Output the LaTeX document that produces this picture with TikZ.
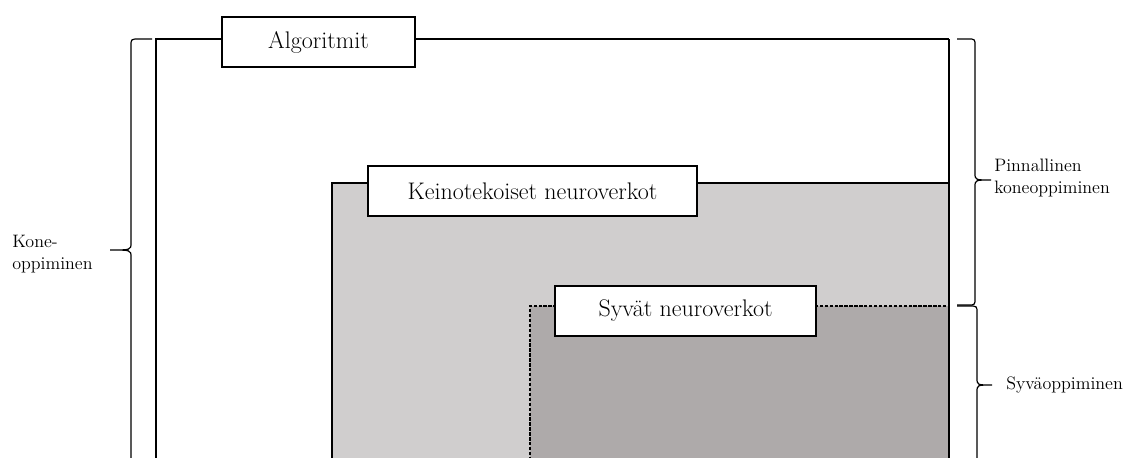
\documentclass[tikz,border=0pt]{standalone}
\usetikzlibrary{positioning}
\definecolor{lightgrey}{HTML}{D0CECE}
\definecolor{darkgrey}{HTML}{AEAAAA}

\begin{document}
\begin{tikzpicture}[line cap=butt,line join=miter,x=0.75pt,y=-0.75pt,
  labelbox/.style={draw,line width=1.1pt,fill=white,inner sep=0pt,minimum height=37.5pt,font=\fontsize{18}{21}\selectfont},
  sidetext/.style={align=left,inner sep=0pt,font=\fontsize{13.5}{16}\selectfont},
  curly/.style={line width=0.9pt}]
\useasboundingbox (0,0) rectangle (1127,457);
\clip (0,0) rectangle (1127,457);
% areas
\fill [lightgrey] (332,183) rectangle (949,480);
\fill [darkgrey] (530,306) rectangle (949,480);
\draw [line width=1.1pt] (156,480) -- (156,39) -- (949,39);
\draw [line width=1.1pt] (332,480) -- (332,183) -- (949,183);
\draw [line width=0.8pt,dashed,dash pattern=on 2.5pt off 1.2pt] (530,480) -- (530,306) -- (949,306);
\draw [line width=1.1pt] (949,39) -- (949,480);
% titles
\node [labelbox,minimum width=144.75pt] (alg) at (318.5,42) {Algoritmit};
\node [labelbox,minimum width=246.75pt] (kno) at (532.5,191) {Keinotekoiset neuroverkot};
\node [labelbox,minimum width=195.75pt] (snv) at (685.5,311) {Syvät neuroverkot};
% braces
\draw [curly] (152,39) -- (139,39) .. controls (131,39) .. (131,46) -- (131,243) .. controls (131,250) .. (110,250)
  (110,250) .. controls (131,250) .. (131,257) -- (131,480);
\draw [curly] (957,39) -- (968,39) .. controls (975,39) .. (975,46) -- (975,173) .. controls (975,180) .. (991,180)
  (991,180) .. controls (975,180) .. (975,187) -- (975,298) .. controls (975,305) .. (968,305) -- (957,305);
\draw [curly] (957,306) -- (969,306) .. controls (977,306) .. (977,313) -- (977,378) .. controls (977,385) .. (992,385)
  (992,385) .. controls (977,385) .. (977,392) -- (977,480);
\node [sidetext,anchor=west] (ko) at (12,254) {Kone-\\oppiminen};
\node [sidetext,anchor=west] (pi) at (994,178) {Pinnallinen\\koneoppiminen};
\node [sidetext,anchor=west] (sy) at (1006,385) {Syväoppiminen};
\end{tikzpicture}
\end{document}
